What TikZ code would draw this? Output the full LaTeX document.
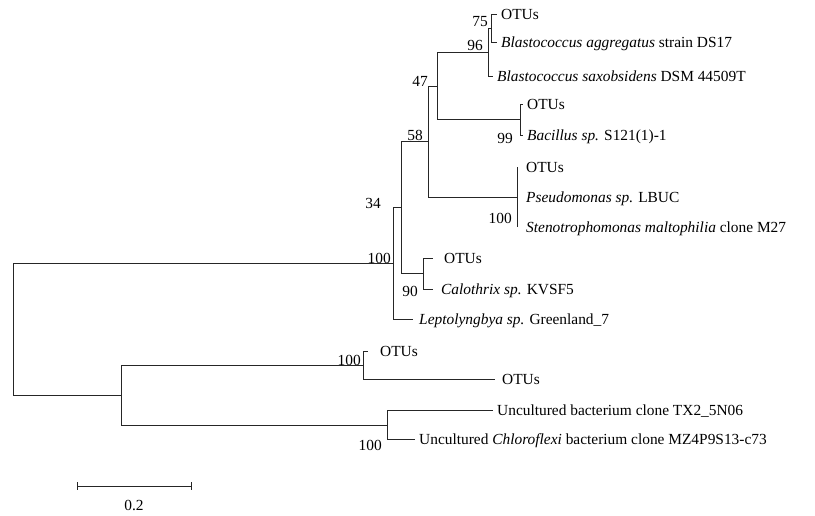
\documentclass[tikz,border=0pt]{standalone}
\usepackage{fontspec}
\setmainfont{Liberation Serif}

\begin{document}
\begin{tikzpicture}[x=1pt, y=-1pt,
    ramo/.style={line width=1pt, black!85},
    folha/.style={anchor=west, inner xsep=4pt, inner ysep=0pt, text height=10pt, text depth=0pt, font=\fontsize{15.4}{18}\selectfont},
    suporte/.style={anchor=east, inner sep=1pt, text height=10pt, text depth=0pt, font=\fontsize{15.4}{18}\selectfont}]

    \useasboundingbox (0,0) rectangle (815,515);

    % Nós internos
    \coordinate (raiz) at (13,329);
    \coordinate (nA)   at (393,263);
    \coordinate (n34)  at (401,207);
    \coordinate (n58)  at (428,141);
    \coordinate (n47)  at (437,86);
    \coordinate (n96)  at (488,52);
    \coordinate (n75)  at (491,28);
    \coordinate (n99)  at (520,119);
    \coordinate (nPs)  at (517,197);
    \coordinate (nCal) at (423,273);
    \coordinate (nB)   at (121,395);
    \coordinate (nO)   at (363,365);
    \coordinate (nU)   at (387,425);

    % Folhas
    \node[folha] (otu1) at (497,14)  {OTUs};
    \node[folha] (bagg) at (497,42)  {\textit{Blastococcus aggregatus} strain DS17};
    \node[folha] (bsax) at (493,76)  {\textit{Blastococcus saxobsidens} DSM 44509T};
    \node[folha] (otu2) at (523,104) {OTUs};
    \node[folha] (bac)  at (523,135) {\textit{Bacillus sp.} S121(1)-1};
    \node[folha, inner xsep=9pt] (otu3) at (517,167) {OTUs};
    \node[folha, inner xsep=9pt] (pse)  at (517,197) {\textit{Pseudomonas sp.} LBUC};
    \node[folha, inner xsep=9pt] (ste)  at (517,227) {\textit{Stenotrophomonas maltophilia} clone M27};
    \node[folha, inner xsep=11pt] (otu4) at (433,258) {OTUs};
    \node[folha, inner xsep=8pt] (cal)  at (433,289) {\textit{Calothrix sp.} KVSF5};
    \node[folha, inner xsep=6pt] (lep)  at (413,319) {\textit{Leptolyngbya sp.} Greenland\_7};
    \node[folha, inner xsep=12pt] (otu5) at (368,351) {OTUs};
    \node[folha, inner xsep=7pt] (otu6) at (495,379) {OTUs};
    \node[folha] (tx2)  at (493,410) {Uncultured bacterium clone TX2\_5N06};
    \node[folha] (chl)  at (415,439) {Uncultured \textit{Chloroflexi} bacterium clone MZ4P9S13-c73};

    % Ramos
    \foreach \p/\c in {raiz/nA, raiz/nB, nA/n34, nA/lep.west, n34/n58, n34/nCal,
        n58/n47, n58/nPs, n47/n96, n47/n99, n96/n75, n96/bsax.west,
        n75/otu1.west, n75/bagg.west, n99/otu2.west, n99/bac.west,
        nPs/otu3.west, nPs/pse.west, nPs/ste.west, nCal/otu4.west, nCal/cal.west,
        nB/nO, nB/nU, nO/otu5.west, nO/otu6.west, nU/tx2.west, nU/chl.west}
        \draw[ramo] (\p) |- (\c);

    % Valores de bootstrap
    \node[suporte] (b75)  at (489,21)  {75};
    \node[suporte] (b96)  at (484,45)  {96};
    \node[suporte] (b47)  at (429,81)  {47};
    \node[suporte] (b58)  at (424,135) {58};
    \node[suporte] (b34)  at (382,203) {34};
    \node[suporte] (bA)   at (392,258) {100};
    \node[suporte] (b99)  at (514,138) {99};
    \node[suporte] (bPs)  at (513,218) {100};
    \node[suporte] (b90)  at (419,291) {90};
    \node[suporte] (bO)   at (362,360) {100};
    \node[suporte] (bU)   at (383,445) {100};

    % Barra de escala
    \coordinate (eL) at (77,486);
    \coordinate (eR) at (191,486);
    \draw[ramo] (eL) -- (eR);
    \draw[ramo] ([yshift=4pt]eL) -- ([yshift=-4pt]eL);
    \draw[ramo] ([yshift=4pt]eR) -- ([yshift=-4pt]eR);
    \node[suporte, anchor=center] (escala) at (134,505) {0.2};

\end{tikzpicture}
\end{document}
